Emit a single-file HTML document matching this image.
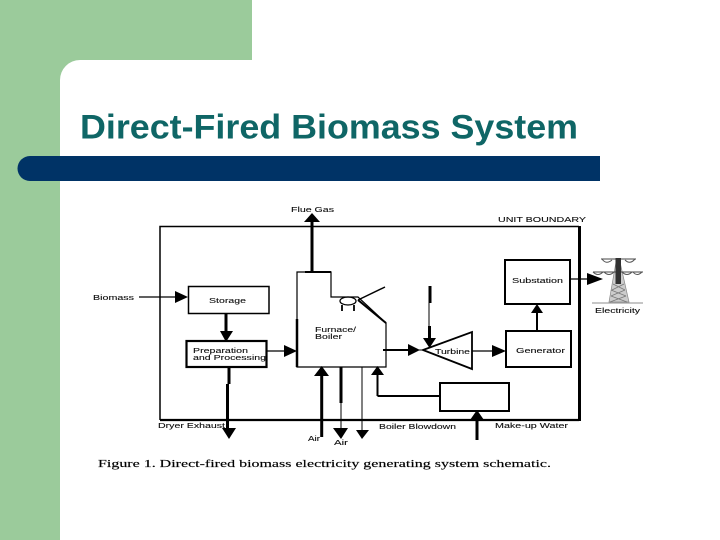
<!DOCTYPE html>
<html>
<head>
<meta charset="utf-8">
<style>
html,body{margin:0;padding:0;background:#fff;}
svg{display:block;}
.l{font-family:"Liberation Sans",sans-serif;font-size:7px;fill:#111;stroke:#111;stroke-width:0.1px;}
</style>
</head>
<body>
<svg width="720" height="540" viewBox="0 0 720 540" xmlns="http://www.w3.org/2000/svg">
<defs><filter id="b" x="-5%" y="-5%" width="110%" height="110%"><feGaussianBlur stdDeviation="0.35"/></filter></defs>
<rect width="720" height="540" fill="#fff"/>
<path d="M0 0H252V60H80A20 20 0 0 0 60 80V540H0Z" fill="#9bcb9b"/>
<path d="M30 156H600V181H30A12.500 12.500 0 0 1 30 156Z" fill="#003366"/>
<text x="80" y="138.500" font-family="Liberation Sans" font-weight="700" font-size="34" fill="#0f6666" textLength="498" lengthAdjust="spacingAndGlyphs">Direct-Fired Biomass System</text>

<g fill="none" stroke="#000" filter="url(#b)">
<path d="M160 420V226.500H579" stroke-width="1.500"/>
<path d="M160 420H579" stroke-width="2.200"/>
<path d="M579.500 226V421" stroke-width="3"/>
<rect x="188.500" y="286.500" width="80.500" height="27" stroke-width="1.500"/>
<rect x="186.500" y="341" width="80" height="26" stroke-width="2.200"/>
<path d="M297 367V272H331V297H358L386 323V367H297Z" stroke-width="1.200"/>
<path d="M297 319V367" stroke-width="2.500"/>
<path d="M305 272H331" stroke-width="2"/>
<path d="M358 300L386 323" stroke-width="2"/>
<path d="M358 300L385 287" stroke-width="1.500"/>
<ellipse cx="348" cy="301" rx="8" ry="4" stroke-width="1.300"/>
<path d="M342 305V311M354 305V311" stroke-width="1.800"/>
<path d="M312 272V221" stroke-width="3"/>
<path d="M139 297H178" stroke-width="1.200"/>
<path d="M226 313V333" stroke-width="3"/>
<path d="M266 351H286" stroke-width="1.300"/>
<path d="M229 367V384" stroke-width="3"/>
<path d="M227.500 384V430" stroke-width="3"/>
<path d="M321.700 437V374" stroke-width="3"/>
<path d="M341 367V403" stroke-width="3"/>
<path d="M341 403V430" stroke-width="1"/>
<path d="M362 367V431" stroke-width="1"/>
<path d="M377.500 396V373M377.500 396H440" stroke-width="2"/>
<rect x="440" y="383" width="69" height="28" stroke-width="2"/>
<path d="M477 440V418" stroke-width="3"/>
<path d="M423 350L472 332V369Z" stroke-width="1.800"/>
<path d="M383 350H412" stroke-width="2"/>
<path d="M412 350H424" stroke-width="1"/>
<path d="M430 286V303" stroke-width="3"/>
<path d="M429 303V327" stroke-width="1"/>
<path d="M429.500 326V340" stroke-width="3"/>
<path d="M472 351H495" stroke-width="1.300"/>
<rect x="506" y="331" width="65" height="36" stroke-width="2"/>
<rect x="505" y="260" width="65" height="44" stroke-width="2"/>
<path d="M537 331V312" stroke-width="2"/>
<path d="M570 279H590" stroke-width="1.200"/>
<path d="M592 303H643" stroke="#666" stroke-width="0.800"/>
</g>

<g fill="#000" filter="url(#b)">
<path d="M312 213L320 222H304Z"/>
<path d="M188 297L175 291V303Z"/>
<path d="M226 342L220 331H233Z"/>
<path d="M297 351L284 345V357Z"/>
<path d="M229 439L222 428H236Z"/>
<path d="M321.700 366L314 376H329Z"/>
<path d="M341 439L333 428H348Z"/>
<path d="M362 439L356 430H369Z"/>
<path d="M377.500 366L371 375H384Z"/>
<path d="M477 410L470 420H484Z"/>
<path d="M420 350L408 344V356Z"/>
<path d="M429.500 348L423 338H436Z"/>
<path d="M506 351L492 345V357Z"/>
<path d="M537 304L531 313H543Z"/>
<path d="M603 279L587 273V285Z"/>
</g>

<!-- tower -->
<g fill="none" stroke="#555" stroke-width="0.700" filter="url(#b)">
<path d="M616 262L609 302H629L620 262Z" fill="#ccc" stroke="#888"/>
<path d="M611 296L627 302M626 296L610 302M611 290L626 296M625 290L611 296M613 284L625 290M624 284L612 290" stroke="#777"/>
<path d="M601 259H636M593 272H643" stroke="#444" stroke-width="1"/>
<path d="M602 259Q606 265 612 260M625 260Q630 265 635 259M593 272Q598 277 603 272M604 272Q609 277 614 272M622 272Q627 277 632 272M633 272Q637 277 642 272" stroke="#555" stroke-width="1"/>
</g>
<path d="M615.500 258H621V284H615.500Z" fill="#333" filter="url(#b)"/>

<g filter="url(#b)">
<text class="l" x="291" y="212" textLength="43" lengthAdjust="spacingAndGlyphs">Flue Gas</text>
<text class="l" x="498" y="222" textLength="88" lengthAdjust="spacingAndGlyphs">UNIT BOUNDARY</text>
<text class="l" x="93" y="300" textLength="41" lengthAdjust="spacingAndGlyphs">Biomass</text>
<text class="l" x="209" y="303" textLength="37" lengthAdjust="spacingAndGlyphs">Storage</text>
<text class="l" x="193" y="353" textLength="55" lengthAdjust="spacingAndGlyphs">Preparation</text>
<text class="l" x="193" y="360" textLength="73" lengthAdjust="spacingAndGlyphs">and Processing</text>
<text class="l" x="315" y="332" textLength="41" lengthAdjust="spacingAndGlyphs">Furnace/</text>
<text class="l" x="315" y="339" textLength="27" lengthAdjust="spacingAndGlyphs">Boiler</text>
<text class="l" x="435" y="354" textLength="35" lengthAdjust="spacingAndGlyphs">Turbine</text>
<text class="l" x="516" y="353" textLength="49" lengthAdjust="spacingAndGlyphs">Generator</text>
<text class="l" x="512" y="283" textLength="51" lengthAdjust="spacingAndGlyphs">Substation</text>
<text class="l" x="595" y="313" textLength="45" lengthAdjust="spacingAndGlyphs">Electricity</text>
<text class="l" x="158" y="428" textLength="67" lengthAdjust="spacingAndGlyphs">Dryer Exhaust</text>
<text class="l" x="308" y="441" textLength="12" lengthAdjust="spacingAndGlyphs">Air</text>
<text class="l" x="334" y="445" textLength="14" lengthAdjust="spacingAndGlyphs">Air</text>
<text class="l" x="379" y="429" textLength="77" lengthAdjust="spacingAndGlyphs">Boiler Blowdown</text>
<text class="l" x="495" y="428" textLength="73" lengthAdjust="spacingAndGlyphs">Make-up Water</text>
</g>
<text x="98" y="467" font-family="Liberation Serif" font-size="10.500" fill="#000" stroke="#000" stroke-width="0.150" textLength="453" lengthAdjust="spacingAndGlyphs" filter="url(#b)">Figure 1. Direct-fired biomass electricity generating system schematic.</text>
</svg>
</body>
</html>
